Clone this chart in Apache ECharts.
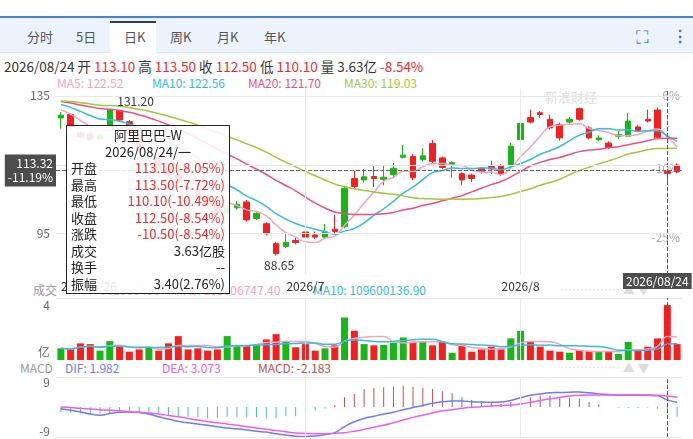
<!DOCTYPE html>
<html>
<head>
<meta charset="utf-8">
<script src="https://cdn.jsdelivr.net/npm/echarts@6/dist/echarts.min.js"></script>
<style>
  html, body { margin: 0; padding: 0; background: #fff; }
  body { width: 693px; height: 439px; position: relative; overflow: hidden; font-family: "Noto Sans CJK SC", "Noto Sans", sans-serif; }
  .t { position: absolute; white-space: nowrap; font-size: 12px; line-height: 14px; }
  #tabs { position: absolute; left: 0; top: 16px; width: 693px; height: 34px; background: #edf3fc; border-top: 2px solid #4a7fd4; border-bottom: 1px solid #dde6f3; }
  #tabs span { position: absolute; top: 9px; font-size: 13px; color: #555; }
  #tabs .on { position: absolute; top: 3px; height: 32px; width: 46px; left: 110px; background: #fff; border-top: 2px solid #1f3f7a; }
  #chart { position: absolute; left: 0; top: 0; width: 693px; height: 439px; z-index: 1; }
  .r { color: #f42a2a; }
</style>
</head>
<body>
<div id="tabs">
  <div class="on"></div>
  <span style="left:27px">分时</span>
  <span style="left:76px">5日</span>
  <span style="left:124px">日K</span>
  <span style="left:170px">周K</span>
  <span style="left:217px">月K</span>
  <span style="left:264px">年K</span>
  <span style="left:636px;top:4px;font-size:18px;color:#3a78d8">⛶</span>
  <span style="left:672px;top:5px;font-size:16px;color:#3a78d8;font-weight:bold">⋮</span>
</div>
<div class="t" style="left:4px;top:59px;color:#333;font-size:13.5px;line-height:15px">2026/08/24 开 <span class="r">113.10</span> 高 <span class="r">113.50</span> 收 <span class="r">112.50</span> 低 <span class="r">110.10</span> 量 3.63亿 <span class="r">-8.54%</span></div>
<div class="t" style="left:57px;top:76px;color:#f5a3bd">MA5: 122.52</div>
<div class="t" style="left:152px;top:76px;color:#33bde0">MA10: 122.56</div>
<div class="t" style="left:248px;top:76px;color:#ee4f82">MA20: 121.70</div>
<div class="t" style="left:344px;top:76px;color:#a3c83c">MA30: 119.03</div>
<div class="t" style="left:545px;top:90px;color:#ccc;font-size:13px;opacity:0.6">新浪财经</div>
<div class="t" style="left:33px;top:283px;color:#999">成交</div>
<div class="t" style="left:100px;top:283px;color:#ccc">362953456</div>
<div class="t" style="left:174px;top:283px;color:#f5a3bd">MA5: 158606747.40</div>
<div class="t" style="left:313px;top:283px;color:#33bde0">MA10: 109600136.90</div>
<div class="t" style="left:560px;top:283px;color:#ddd">⋯⋯⋯⋯⋯ ▲ ▼</div>
<div class="t" style="left:20px;top:361px;color:#999">MACD</div>
<div class="t" style="left:65px;top:361px;color:#6a7df5">DIF: 1.982</div>
<div class="t" style="left:162px;top:361px;color:#ef5cf0">DEA: 3.073</div>
<div class="t" style="left:258px;top:361px;color:#c0504d">MACD: -2.183</div>
<div class="t" style="left:560px;top:361px;color:#ddd">⋯⋯⋯⋯⋯ ▲ ▼</div>
<div id="chart"></div>
<script>
// trading days
var dates = ['2026/05/26','2026/05/27','2026/05/28','2026/05/29',
  '2026/06/01','2026/06/02','2026/06/03','2026/06/04','2026/06/05','2026/06/08','2026/06/09','2026/06/10','2026/06/11','2026/06/12',
  '2026/06/15','2026/06/16','2026/06/17','2026/06/18','2026/06/22','2026/06/23','2026/06/24','2026/06/25','2026/06/26','2026/06/29','2026/06/30',
  '2026/07/02','2026/07/03','2026/07/06','2026/07/07','2026/07/08','2026/07/09','2026/07/10','2026/07/13','2026/07/14','2026/07/15','2026/07/16','2026/07/17',
  '2026/07/20','2026/07/21','2026/07/22','2026/07/23','2026/07/24','2026/07/27','2026/07/28','2026/07/29','2026/07/30','2026/07/31',
  '2026/08/03','2026/08/04','2026/08/05','2026/08/06','2026/08/07','2026/08/10','2026/08/11','2026/08/12','2026/08/13','2026/08/14',
  '2026/08/17','2026/08/18','2026/08/19','2026/08/20','2026/08/21','2026/08/24','2026/08/25'];

// closes before the first visible day (only used to warm up the MAs)
var priorCloses = [131.5,132.8,133.6,134.2,133.9,134.8,135.2,134.6,133.8,134.4,135.0,134.1,133.2,133.9,134.6,
  135.3,134.8,133.7,134.2,133.5,134.1,135.0,134.4,133.6,133.0,132.5,131.8,131.0,130.2];

// [open, close, low, high]
var kline = [
  [128.6,129.4,125.5,130.3],[129.6,125.8,125.2,129.9],[124.2,123.2,122.6,124.8],[123.9,122.4,121.8,124.5],
  [122.5,123.6,122.0,124.0],[126.5,131.0,126.0,131.2],[130.8,128.0,127.6,131.0],[127.5,124.0,123.2,128.0],
  [123.5,119.0,118.5,124.0],[117.0,117.5,116.2,118.6],[117.5,114.0,113.5,118.0],[114.0,112.0,111.5,114.6],
  [112.5,110.0,109.6,113.0],[108.5,108.0,107.2,109.8],[108.0,105.5,105.0,108.6],[105.5,103.5,103.0,106.0],
  [103.5,101.0,100.5,104.0],[101.0,102.5,100.6,103.2],[102.5,103.5,102.0,104.5],[104.2,99.0,98.5,104.8],
  [99.4,100.9,99.0,101.6],[97.9,95.0,94.5,98.3],[92.1,89.2,88.65,92.5],[91.3,92.5,90.8,95.0],
  [93.0,92.4,91.9,93.8],[95.5,94.0,93.6,96.6],[94.6,94.0,93.5,95.6],[94.0,95.5,93.5,97.8],
  [96.3,95.6,95.2,100.4],[97.0,108.2,96.5,108.6],[111.0,108.7,108.2,113.3],[110.6,111.5,109.8,113.8],
  [111.6,111.0,108.5,115.0],[110.8,111.4,109.0,114.7],[112.1,114.0,111.2,115.6],[117.2,117.8,116.8,120.8],
  [117.4,111.2,110.5,118.2],[116.5,117.6,116.0,119.8],[121.2,116.0,115.5,122.2],[117.0,114.2,113.8,117.4],
  [115.0,115.6,111.2,116.0],[112.4,110.6,109.2,112.8],[112.0,111.0,110.0,112.4],[114.0,113.0,112.5,114.3],
  [114.5,113.8,112.3,116.2],[114.8,112.3,111.8,115.2],[115.0,120.4,114.5,121.4],[122.3,127.0,121.8,127.8],
  [128.7,127.4,127.0,131.0],[130.1,129.6,128.6,130.6],[128.2,125.7,125.2,129.5],[126.7,122.8,122.0,127.2],
  [127.4,128.2,126.5,128.8],[131.3,128.2,127.8,131.6],[125.7,122.8,122.4,126.2],[122.3,122.8,121.8,123.5],
  [121.3,120.0,119.5,121.8],[123.3,123.8,122.5,124.8],[123.3,127.7,123.0,130.0],[126.0,124.8,124.5,126.5],
  [128.2,127.7,127.3,131.0],[130.9,123.0,122.5,131.6],[113.1,112.5,110.1,113.5],[114.9,113.0,112.5,115.4]
];

// volume, 亿股
var volume = [0.77,0.70,1.10,1.05,0.62,1.25,0.88,0.55,0.70,0.81,0.62,1.10,1.58,0.70,0.77,0.62,
  0.70,1.58,0.92,0.92,0.99,1.36,1.71,1.19,0.84,1.05,0.62,0.77,0.97,2.81,1.93,1.05,
  0.97,0.99,1.14,1.49,1.21,1.19,0.97,1.19,0.48,0.97,0.55,0.70,0.88,0.70,1.43,1.93,
  1.19,0.88,0.62,0.55,0.48,0.66,0.59,0.55,0.55,0.40,1.19,0.62,0.88,1.43,3.63,1.05];

var dif = [-0.6,-1.2,-1.8,-2.6,-3.0,-2.4,-1.9,-1.8,-2.0,-2.6,-3.6,-4.4,-5.2,-5.8,-6.2,-6.7,
  -7.2,-7.7,-8.0,-8.4,-8.9,-9.2,-9.8,-10.3,-10.7,-10.8,-10.6,-10.1,-9.4,-7.2,-5.4,-4.2,
  -3.4,-2.6,-1.9,-1.0,-0.2,0.6,1.4,1.9,2.2,2.2,1.9,1.8,1.7,1.8,2.4,3.4,
  4.3,4.8,5.2,5.3,5.4,5.5,5.2,4.8,4.6,4.4,4.4,4.4,4.3,4.1,2.6,1.7];
var dea = [0,-0.2,-0.5,-0.7,-1.0,-1.2,-1.4,-1.7,-1.9,-2.2,-2.6,-3.1,-3.6,-4.2,-4.8,-5.3,
  -5.8,-6.2,-6.7,-7.2,-7.7,-8.2,-8.6,-9.1,-9.5,-9.7,-9.8,-9.8,-9.6,-9.4,-8.9,-8.2,
  -7.4,-6.7,-5.8,-4.8,-3.8,-3.0,-2.2,-1.4,-1.0,-0.5,-0.1,0.1,0.4,0.5,0.7,1.1,
  1.7,2.4,3.0,3.5,4.0,4.3,4.4,4.4,4.4,4.4,4.4,4.4,4.4,4.3,4.0,3.6];
var macd = [-1.8,-2.2,-2.4,-3.0,-2.4,-2.2,-1.4,-1.8,-1.8,-2.2,-2.4,-3.0,-3.6,-3.6,-3.8,-4.2,
  -3.8,-3.6,-3.8,-3.8,-3.8,-4.2,-4.2,-3.4,-3.4,-2.0,-1.4,-0.6,0.6,3.6,4.8,6.6,
  7.0,7.2,7.4,7.8,7.4,7.0,6.6,5.8,5.0,3.6,2.6,2.2,1.8,1.2,1.8,3.0,
  3.6,4.2,4.2,3.8,3.4,3.0,1.8,1.0,0,-0.2,-0.4,-0.4,-0.2,-0.6,-2.2,-3.6];

var priceTicks = [95, 115, 135];
var pctTicks = { 135: '6%', 114: '-10%', 94: '-25%' };
var monthMarks = { 0: '2026/5/26', 25: '2026/7', 47: '2026/8' };

var UP = '#17b717', DOWN = '#f42020';
var hover = 62;

function ma(n) {
  var closes = priorCloses.concat(kline.map(function (k) { return k[1]; }));
  var off = priorCloses.length;
  return kline.map(function (k, i) {
    var s = 0;
    for (var j = 0; j < n; j++) s += closes[off + i - j];
    return +(s / n).toFixed(2);
  });
}
function volMa(n) {
  return volume.map(function (v, i) {
    var s = 0, c = 0;
    for (var j = Math.max(0, i - n + 1); j <= i; j++) { s += volume[j]; c++; }
    return +(s / c).toFixed(3);
  });
}

var volData = volume.map(function (v, i) {
  return { value: v, itemStyle: { color: kline[i][1] >= kline[i][0] ? UP : DOWN } };
});
var macdData = macd.map(function (v) {
  return { value: v, itemStyle: { color: v >= 0 ? '#c0504d' : '#40c8a0' } };
});

var vLines = [{ xAxis: 25 }, { xAxis: 47 }];
function gridLines(extra) {
  return { silent: true, symbol: 'none', label: { show: false },
    lineStyle: { color: '#e8e8e8', type: 'solid', width: 1 }, data: vLines.concat(extra) };
}
function line(name, x, y, data, color) {
  return { name: name, type: 'line', xAxisIndex: x, yAxisIndex: y, data: data, smooth: true,
    symbol: 'none', emphasis: { disabled: true }, lineStyle: { color: color, width: 1.5 } };
}

var chart = echarts.init(document.getElementById('chart'));
chart.setOption({
  animation: false,
  textStyle: { fontFamily: 'Noto Sans CJK SC' },
  tooltip: {
    trigger: 'axis', triggerOn: 'none', alwaysShowContent: true,
    axisPointer: { type: 'none' },
    position: [66, 125],
    backgroundColor: 'rgba(255,255,255,0.88)', borderColor: '#222', borderWidth: 1, borderRadius: 0,
    padding: [1, 4], transitionDuration: 0, extraCssText: 'box-shadow:none;',
    formatter: function () {
      var k = kline[hover], prev = kline[hover - 1][1];
      function pc(v) { return ((v - prev) / prev * 100).toFixed(2) + '%'; }
      function row(a, b, red) {
        return '<div style="display:flex;justify-content:space-between"><span style="color:#222">' + a +
          '</span><span style="color:' + (red ? '#f42a2a' : '#222') + '">' + b + '</span></div>';
      }
      return '<div style="width:154px;font-size:13px;line-height:16.5px;color:#222">' +
        '<div style="text-align:center">阿里巴巴-W</div>' +
        '<div style="text-align:center">' + dates[hover] + '/一</div>' +
        row('开盘', k[0].toFixed(2) + '(' + pc(k[0]) + ')', true) +
        row('最高', k[3].toFixed(2) + '(' + pc(k[3]) + ')', true) +
        row('最低', k[2].toFixed(2) + '(' + pc(k[2]) + ')', true) +
        row('收盘', k[1].toFixed(2) + '(' + pc(k[1]) + ')', true) +
        row('涨跌', (k[1] - prev).toFixed(2) + '(' + pc(k[1]) + ')', true) +
        row('成交', volume[hover].toFixed(2) + '亿股', false) +
        row('换手', '--', false) +
        row('振幅', (k[3] - k[2]).toFixed(2) + '(' + ((k[3] - k[2]) / prev * 100).toFixed(2) + '%)', false) +
        '</div>';
    }
  },
  grid: [
    { left: 56, right: 11, top: 89, height: 186 },
    { left: 56, right: 11, top: 298, height: 62 },
    { left: 56, right: 11, top: 377, height: 60 }
  ],
  xAxis: [0, 1, 2].map(function (g) {
    return {
      type: 'category', gridIndex: g, data: dates,
      axisLine: { show: false }, axisTick: { show: false }, splitLine: { show: false },
      axisLabel: g === 0 ? {
        show: true, color: '#333', fontSize: 12, margin: 5, alignMinLabel: 'left',
        interval: function (i) { return monthMarks[i] !== undefined; },
        formatter: function (v, i) { return monthMarks[i] || ''; }
      } : { show: false }
    };
  }),
  yAxis: [
    { gridIndex: 0, min: 83, max: 137, splitLine: { show: false }, axisLine: { show: false }, axisTick: { show: false },
      axisLabel: { color: '#666', fontSize: 12, margin: 6, customValues: priceTicks } },
    { gridIndex: 0, position: 'right', min: 83, max: 137, splitLine: { show: false }, axisLine: { show: false }, axisTick: { show: false },
      axisLabel: { inside: true, color: '#aaa', fontSize: 12, margin: 2, customValues: [135, 114, 94],
        formatter: function (v) { return pctTicks[Math.round(v)] || ''; } } },
    { gridIndex: 1, min: 0, max: 4.1, splitLine: { show: false }, axisLine: { show: false }, axisTick: { show: false },
      axisLabel: { color: '#666', fontSize: 12, margin: 6, customValues: [0.53, 3.63],
        formatter: function (v) { return v > 1 ? '4' : '亿'; } } },
    { gridIndex: 2, min: -11, max: 11, splitLine: { show: false }, axisLine: { show: false }, axisTick: { show: false },
      axisLabel: { color: '#666', fontSize: 12, margin: 6, customValues: [-9, 9] } }
  ],
  series: [
    {
      name: 'K', type: 'candlestick', xAxisIndex: 0, yAxisIndex: 0, data: kline.map(function (k) { return [k[0], k[1], k[2], k[3]]; }),
      barWidth: 6, emphasis: { disabled: true },
      itemStyle: { color: UP, color0: DOWN, borderColor: UP, borderColor0: DOWN, borderWidth: 1 },
      markPoint: {
        symbol: 'circle', symbolSize: 1, itemStyle: { color: 'transparent' },
        label: { color: '#333', fontSize: 12 },
        data: [
          { coord: [6, 131.2], value: '131.20', label: { offset: [16, -8] } },
          { coord: [22, 88.65], value: '88.65', label: { offset: [3, 10] } }
        ]
      },
      markLine: {
        silent: true, symbol: 'none',
        data: [
          { yAxis: 113.32, lineStyle: { color: '#666', type: 'dashed', width: 1 },
            label: { show: true, position: 'start', formatter: '113.32\n-11.19%', color: '#fff', backgroundColor: '#4d4d4d',
              padding: [2, 3], fontSize: 12, lineHeight: 14, align: 'right', distance: 0 } },
          { xAxis: hover, lineStyle: { color: '#555', type: 'dashed', width: 1 },
            label: { show: true, position: 'start', formatter: dates[hover], color: '#fff', backgroundColor: '#4d4d4d',
              padding: [2, 3], fontSize: 12, distance: 2, offset: [-10, -4] } }
        ]
      }
    },
    { name: 'grid0', type: 'line', xAxisIndex: 0, yAxisIndex: 0, data: [], markLine: gridLines(priceTicks.map(function (t) { return { yAxis: t }; })) },
    line('MA5', 0, 0, ma(5), '#f5a3bd'),
    line('MA10', 0, 0, ma(10), '#33bde0'),
    line('MA20', 0, 0, ma(20), '#ee4f82'),
    line('MA30', 0, 0, ma(30), '#a3c83c'),
    {
      name: 'VOL', type: 'bar', xAxisIndex: 1, yAxisIndex: 2, data: volData, barWidth: 7, emphasis: { disabled: true },
      markLine: (function () {
        var m = gridLines([{ yAxis: 4.1 }]);
        m.data.push({ xAxis: hover, lineStyle: { color: '#555', type: 'dashed' } });
        return m;
      })()
    },
    line('VMA5', 1, 2, volMa(5), '#f5a3bd'),
    line('VMA10', 1, 2, volMa(10), '#33bde0'),
    {
      name: 'MACD', type: 'bar', xAxisIndex: 2, yAxisIndex: 3, data: macdData, barWidth: 1, emphasis: { disabled: true },
      markLine: (function () {
        var m = gridLines([{ yAxis: 11 }, { yAxis: -11 }]);
        m.data.push({ xAxis: hover, lineStyle: { color: '#555', type: 'dashed' } });
        return m;
      })()
    },
    line('DIF', 2, 3, dif, '#6a7df5'),
    line('DEA', 2, 3, dea, '#ef5cf0')
  ]
});
chart.dispatchAction({ type: 'showTip', seriesIndex: 0, dataIndex: hover });
</script>
</body>
</html>
